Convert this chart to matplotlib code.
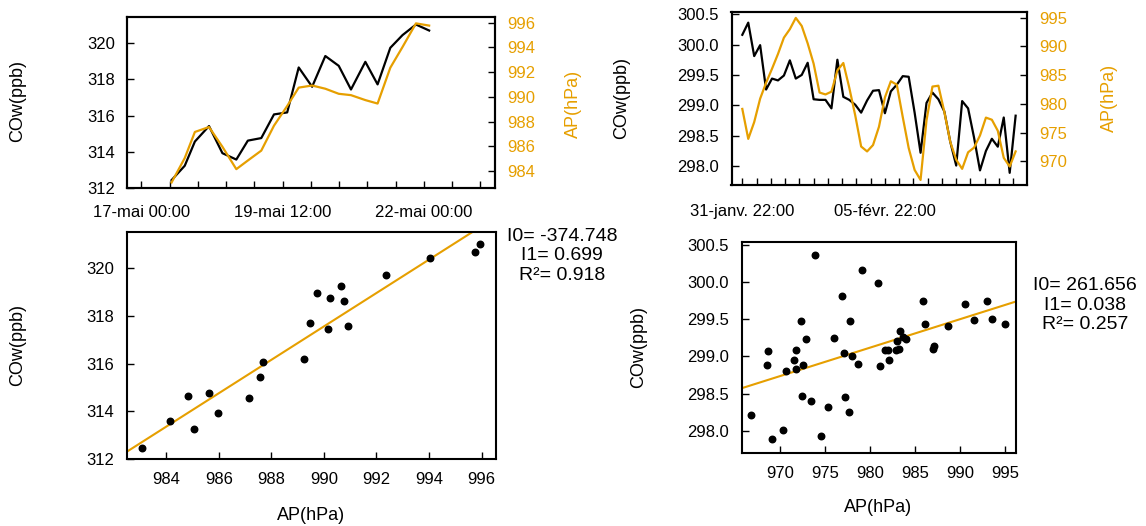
import numpy as np
import pandas as pd
import matplotlib
matplotlib.use("Agg")
import matplotlib.pyplot as plt

plt.rcParams['font.family'] = ['Liberation Sans', 'DejaVu Sans']

ORANGE = '#E69F00'
W, H = 1146, 526

# ---- campagne de mai
t_mai = pd.to_datetime([
    "2014-05-17 12:48", "2014-05-17 18:24", "2014-05-17 22:42", "2014-05-18 04:42",
    "2014-05-18 10:24", "2014-05-18 16:18", "2014-05-18 21:12", "2014-05-19 02:54",
    "2014-05-19 08:18", "2014-05-19 13:54", "2014-05-19 18:48", "2014-05-20 00:30",
    "2014-05-20 06:06", "2014-05-20 11:48", "2014-05-20 17:00", "2014-05-20 23:06",
    "2014-05-21 04:18", "2014-05-21 09:42", "2014-05-21 14:54", "2014-05-21 20:36",
    "2014-05-22 02:12"])
cow_mai = [312.45, 313.24, 314.57, 315.42, 313.93, 313.58, 314.62, 314.76, 316.06, 316.17,
           318.64, 317.58, 319.27, 318.73, 317.43, 318.95, 317.71, 319.72, 320.42, 321.00,
           320.67]
ap_mai = [983.07, 985.05, 987.16, 987.56, 985.96, 984.15, 984.85, 985.65, 987.67, 989.26,
          990.75, 990.92, 990.66, 990.25, 990.14, 989.74, 989.46, 992.36, 994.04, 995.95,
          995.77]
ticks_mai = pd.date_range("2014-05-17 00:00", periods=13, freq="12h")
labels_mai = ['17-mai 00:00', '', '', '', '', '19-mai 12:00', '', '', '', '',
              '22-mai 00:00', '', '']
fit_mai = "I0= -374.748\nI1= 0.699\nR²= 0.918"

# ---- campagne de fevrier
t_fev = pd.date_range("2016-01-31 22:00", periods=47, freq="5h")
cow_fev = [300.16, 300.36, 299.81, 299.99, 299.26, 299.44, 299.41, 299.49, 299.74, 299.44,
           299.50, 299.70, 299.10, 299.09, 299.09, 298.95, 299.75, 299.14, 299.09, 299.01,
           298.88, 299.08, 299.24, 299.25, 298.87, 299.23, 299.34, 299.48, 299.47, 298.88,
           298.22, 299.04, 299.21, 299.10, 298.90, 298.40, 298.01, 299.07, 298.95, 298.47,
           297.93, 298.25, 298.45, 298.32, 298.80, 297.89, 298.83]
ap_fev = [979.13, 973.92, 976.84, 980.91, 983.68, 986.12, 988.68, 991.52, 993.00, 994.96,
          993.56, 990.53, 987.01, 981.98, 981.65, 982.13, 985.83, 987.12, 982.83, 978.03,
          972.59, 971.74, 972.85, 976.03, 981.13, 983.94, 983.35, 977.73, 972.33, 968.52,
          966.78, 977.14, 983.02, 983.17, 978.62, 973.40, 970.30, 968.71, 971.59, 972.40,
          974.51, 977.62, 977.25, 975.33, 970.63, 969.11, 971.74]
ticks_fev = pd.date_range("2016-01-31 22:00", periods=20, freq="12h")
labels_fev = ['31-janv. 22:00'] + [''] * 9 + ['05-févr. 22:00'] + [''] * 9
fit_fev = "I0= 261.656\nI1= 0.038\nR²= 0.257"


def rect(l, r, t, b):
    return [l / W, 1 - b / H, (r - l) / W, (b - t) / H]


def style(ax):
    for s in ax.spines.values():
        s.set_linewidth(1.5)
    ax.tick_params(direction='in', length=5, width=1, labelsize=12, pad=9)


def label(x, y, s, color='black', rot=90, size=13):
    fig.text(x / W, 1 - y / H, s, rotation=rot, ha='center', va='center',
             color=color, fontsize=size)


fig = plt.figure(figsize=(W / 100, H / 100), dpi=100)

# ---- haut gauche : serie temporelle mai
ax = fig.add_axes(rect(127.3, 495, 16.7, 188.3))
ax.plot(t_mai, cow_mai, color='black', lw=1.6)
ax.set_ylim(312, 321.43)
ax.set_yticks([312, 314, 316, 318, 320])
ax.set_xticks(ticks_mai)
ax.set_xticklabels(labels_mai)
ax.set_xlim(pd.Timestamp("2014-05-16 18:00"), pd.Timestamp("2014-05-23 06:10"))
style(ax)
ax.tick_params(axis='x', pad=12)
ax2 = ax.twinx()
ax2.plot(t_mai, ap_mai, color=ORANGE, lw=1.6)
ax2.set_ylim(982.6, 996.49)
ax2.set_yticks([984, 986, 988, 990, 992, 994, 996])
style(ax2)
ax2.tick_params(axis='y', labelcolor=ORANGE)
label(18, 101, 'COw(ppb)')
label(573, 104, 'AP(hPa)', color=ORANGE)

# ---- haut droite : serie temporelle fevrier
ax = fig.add_axes(rect(731.5, 1026.8, 11.7, 185))
ax.plot(t_fev, cow_fev, color='black', lw=1.6)
ax.set_ylim(297.69, 300.54)
ax.set_yticks([298.0, 298.5, 299.0, 299.5, 300.0, 300.5])
ax.set_yticklabels(['%.1f' % v for v in [298.0, 298.5, 299.0, 299.5, 300.0, 300.5]])
ax.set_xticks(ticks_fev)
ax.set_xticklabels(labels_fev)
ax.set_xlim(pd.Timestamp("2016-01-31 12:54"), pd.Timestamp("2016-02-10 21:24"))
style(ax)
ax.tick_params(axis='x', pad=14)
ax2 = ax.twinx()
ax2.plot(t_fev, ap_fev, color=ORANGE, lw=1.6)
ax2.set_ylim(965.9, 996.04)
ax2.set_yticks([970, 975, 980, 985, 990, 995])
style(ax2)
ax2.tick_params(axis='y', labelcolor=ORANGE)
label(622, 98, 'COw(ppb)')
label(1109, 98, 'AP(hPa)', color=ORANGE)

# ---- bas gauche : nuage mai
ax = fig.add_axes(rect(126.7, 496, 232.3, 459))
ax.scatter(ap_mai, cow_mai, s=22, color='black', zorder=3)
xl = (982.5, 996.55)
b1, b0 = np.polyfit(ap_mai, cow_mai, 1)
xx = np.array(xl)
ax.plot(xx, b0 + b1 * xx, color=ORANGE, lw=1.5)
ax.set_xlim(*xl)
ax.set_ylim(312, 321.5)
ax.set_xticks([984, 986, 988, 990, 992, 994, 996])
ax.set_yticks([312, 314, 316, 318, 320])
style(ax)
label(18, 345, 'COw(ppb)')
label(311, 515, 'AP(hPa)', rot=0)
fig.text(562 / W, 1 - 256 / H, fit_mai, ha='center', va='center', fontsize=14,
         multialignment='center', linespacing=1.2)

# ---- bas droite : nuage fevrier
ax = fig.add_axes(rect(741.7, 1016, 241.7, 453.3))
ax.scatter(ap_fev, cow_fev, s=22, color='black', zorder=3)
xl = (965.75, 996.18)
b1, b0 = np.polyfit(ap_fev, cow_fev, 1)
xx = np.array(xl)
ax.plot(xx, b0 + b1 * xx, color=ORANGE, lw=1.5)
ax.set_xlim(*xl)
ax.set_ylim(297.70, 300.54)
ax.set_xticks([970, 975, 980, 985, 990, 995])
ax.set_yticks([298.0, 298.5, 299.0, 299.5, 300.0, 300.5])
ax.set_yticklabels(['%.1f' % v for v in [298.0, 298.5, 299.0, 299.5, 300.0, 300.5]])
style(ax)
label(638.5, 347, 'COw(ppb)')
label(878, 507, 'AP(hPa)', rot=0)
fig.text(1085 / W, 1 - 305 / H, fit_fev, ha='center', va='center', fontsize=14,
         multialignment='center', linespacing=1.2)

fig.savefig('out.png', dpi=100)
